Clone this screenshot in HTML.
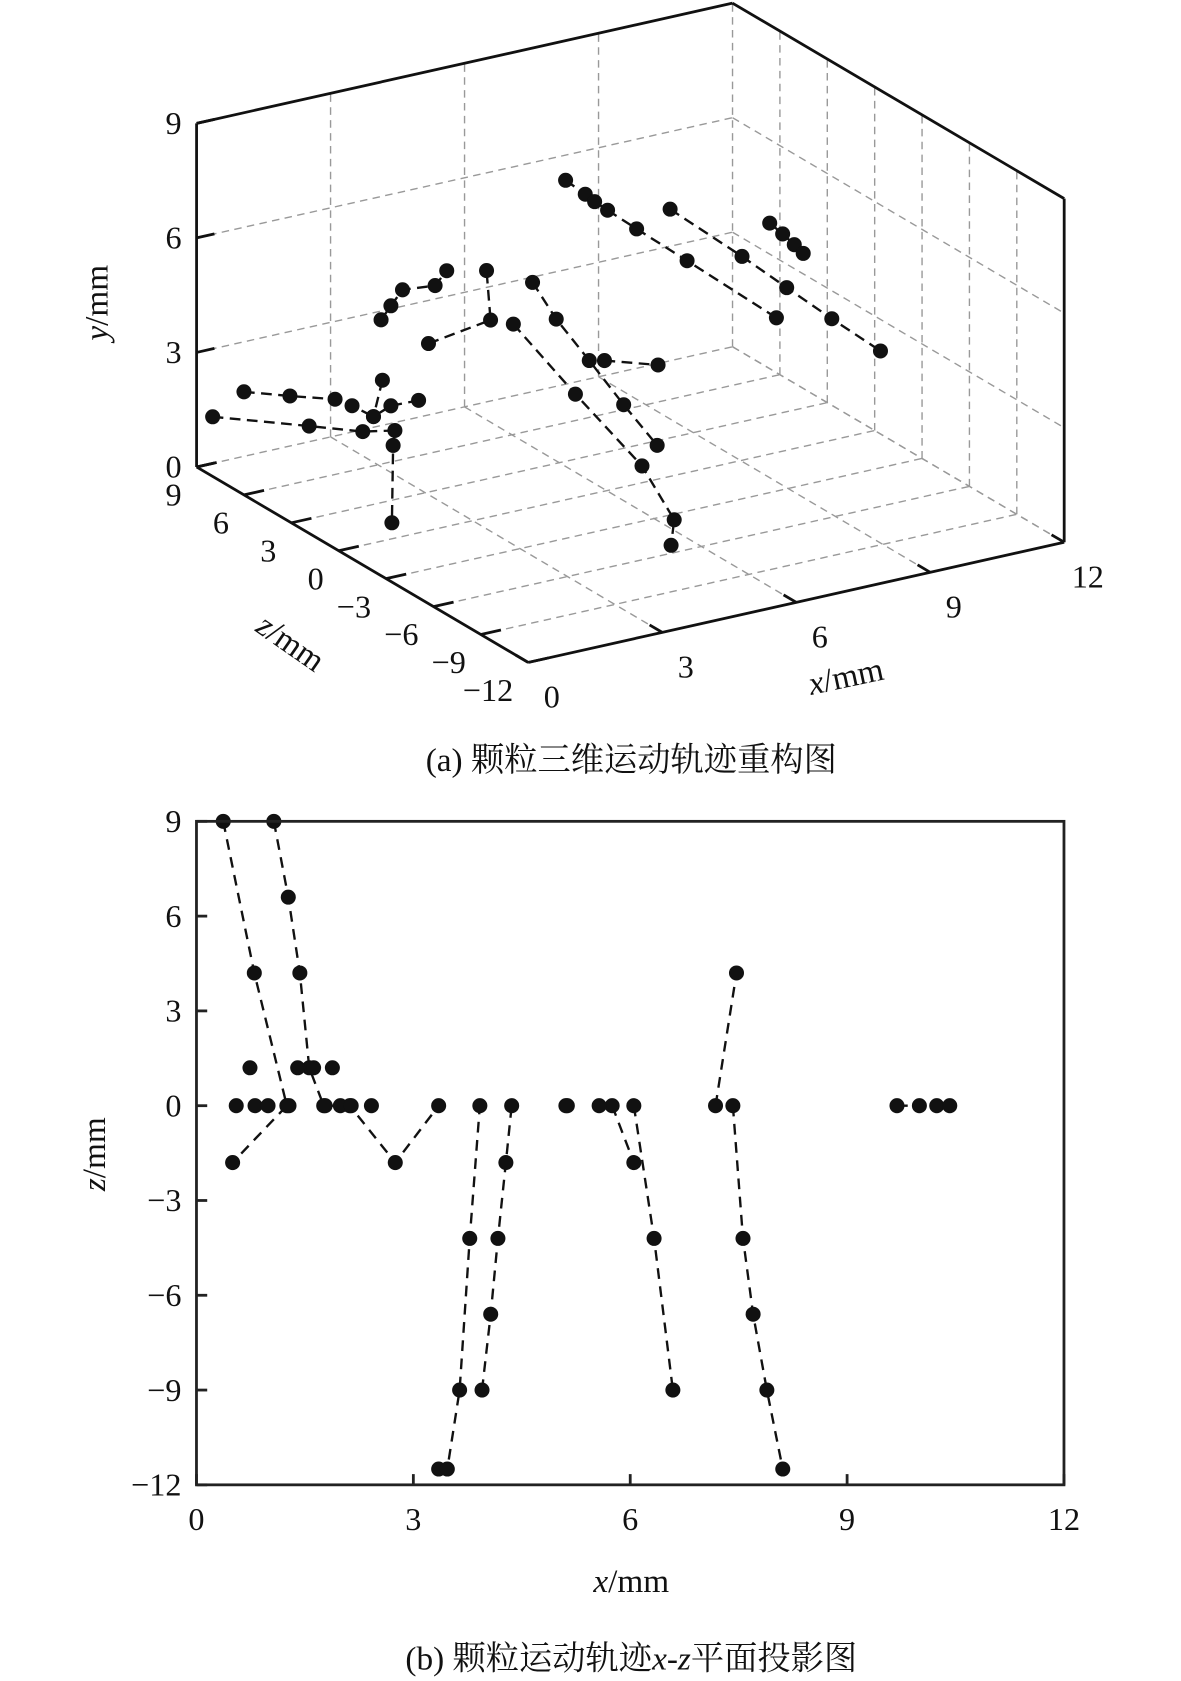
<!DOCTYPE html>
<html><head><meta charset="utf-8"><style>
html,body{margin:0;padding:0;background:#fff;}
svg{display:block;}
text{font-family:"Liberation Serif","Noto Serif CJK SC",serif;fill:#111;}
</style></head><body>
<svg id="fig" width="1181" height="1681" viewBox="0 0 1100 1565.7" xmlns="http://www.w3.org/2000/svg">
<g id="topchart"></g>
<g id="botchart"></g>
<text x="100" y="282" font-size="31" text-anchor="middle" transform="rotate(-90 100 282)"><tspan font-style="italic">y</tspan>/mm</text>
<text x="265" y="607" font-size="31" text-anchor="middle" transform="rotate(35 265 607)"><tspan font-style="italic">z</tspan>/mm</text>
<text x="790" y="640" font-size="31" text-anchor="middle" transform="rotate(-12 790 640)"><tspan font-style="italic">x</tspan>/mm</text>
<text x="588" y="718" font-size="31" text-anchor="middle">(a) 颗粒三维运动轨迹重构图</text>
<text x="98" y="1075" font-size="31" text-anchor="middle" transform="rotate(-90 98 1075)"><tspan font-style="italic">z</tspan>/mm</text>
<text x="588" y="1483" font-size="31" text-anchor="middle"><tspan font-style="italic">x</tspan>/mm</text>
<text x="588" y="1555" font-size="31" text-anchor="middle">(b) 颗粒运动轨迹<tspan font-style="italic">x</tspan>-<tspan font-style="italic">z</tspan>平面投影图</text>
</svg>
<script>
// ---- 3D chart data (x, y, z in mm) ----
const t3x = [
 [0.36,1.46,2.66,3.38,3.34,0.13],
 [0.0,1.03,2.04,2.42,2.90,3.29,3.91],
 [3.10,2.90],
 [3.07,3.29,3.55,4.28,4.54],
 [2.01,3.40,3.31],
 [3.91,5.30,6.79,5.39,5.32],
 [4.34,4.87,5.61,6.38,7.13],
 [5.95,7.15],
 [5.08,5.52,5.73,6.02,6.67,7.80,9.80],
 [7.42,9.03,10.03,11.04,12.13],
 [9.65,9.94,10.20,10.40]
];
const t3y = [
 [1.22,1.42,0.96,0.80,0.42,1.43],
 [2.70,2.32,1.97,1.70,1.29,1.47,1.45],
 [2.19,1.29],
 [3.78,4.09,4.44,4.36,4.68],
 [4.90,5.15,6.47],
 [4.91,2.71,0.44,0.86,0.21],
 [5.89,4.79,3.51,2.15,0.89],
 [3.42,2.99],
 [8.37,7.89,7.64,7.34,6.68,5.55,3.53],
 [7.0,5.34,4.26,3.18,2.05],
 [6.05,5.69,5.34,5.06]
];
const t3z = [
 [9,6,6,6,6,-3],
 [6,6,6,6,6,6,6],
 [6,6],
 [6,6,6,6,6],
 [0,0,0],
 [0,0,0,-6,-6],
 [0,0,0,0,0],
 [0,0],
 [0,0,0,0,0,0,0],
 [0,0,0,0,0],
 [0,0,0,0]
];
const xTicks3 = [0,3,6,9,12];
const yTicks3 = [0,3,6,9];
const zTicks3 = [9,6,3,0,-3,-6,-9,-12];

// ---- 2D chart data ----
const bx = [
 [0.37,0.80,1.25,0.50],
 [1.07,1.27,1.43,1.56,1.76,2.12,2.75,3.35],
 [3.35,3.47,3.64,3.78,3.92],
 [3.95,4.07,4.17,4.28,4.36],
 [5.75,6.05],
 [6.05,6.33,6.59],
 [7.18,7.47],
 [7.42,7.56,7.70,7.89,8.11],
 [9.69,10.0,10.24,10.42]
];
const bz = [
 [9,4.2,0,-1.8],
 [9,6.6,4.2,1.2,0,0,-1.8,0],
 [-11.5,-11.5,-9,-4.2,0],
 [-9,-6.6,-4.2,-1.8,0],
 [0,-1.8],
 [0,-4.2,-9],
 [0,4.2],
 [0,-4.2,-6.6,-9,-11.5],
 [0,0,0,0]
];
const extraX = [0.55,0.74,0.81,0.99,1.28,1.40,1.62,1.78,1.88,1.99,2.14,2.42,5.11,5.13,5.57];
const extraZ = [0,1.2,0,0,0,1.2,1.2,0,1.2,0,0,0,0,0,0];
const xTicks2 = [0,3,6,9,12];
const zTicks2 = [9,6,3,0,-3,-6,-9,-12];
const xLabels2 = ["0","3","6","9","12"];
const zLabels2 = ["9","6","3","0","\u22123","\u22126","\u22129","\u221212"];

const NS="http://www.w3.org/2000/svg";
function mk(tag, attrs, parent){const e=document.createElementNS(NS,tag);for(const k in attrs)e.setAttribute(k,attrs[k]);parent.appendChild(e);return e;}

// ---------- 3D ----------
const topG=document.getElementById('topchart');
function P(x,y,z){return [492+41.6*x-14.71*(z+12), 617-9.33*x-8.67*(z+12)-35.56*y];}
function line3(a,b,dash,parent,name){
 const p=P(a[0],a[1],a[2]),q=P(b[0],b[1],b[2]);
 const l=mk('line',{x1:p[0],y1:p[1],x2:q[0],y2:q[1],stroke:dash?'#999':'#111','stroke-width':dash?1.3:2.6,'stroke-dasharray':dash?'7 5':'none'},parent);
 
 
}
const grid=mk('g',{},topG);


[3,6,9,12].forEach(x=>line3([x,0,9],[x,0,-12],true,grid,'floor-grid-x'));
[9,6,3,0,-3,-6,-9].forEach(z=>line3([0,0,z],[12,0,z],true,grid,'floor-grid-z'));
[3,6,9,12].forEach(x=>line3([x,0,9],[x,9,9],true,grid,'back-grid-x'));
[3,6].forEach(y=>line3([0,y,9],[12,y,9],true,grid,'back-grid-y'));
[6,3,0,-3,-6,-9].forEach(z=>line3([12,0,z],[12,9,z],true,grid,'side-grid-z'));
[0,3,6].forEach(y=>line3([12,y,9],[12,y,-12],true,grid,'side-grid-y'));
const box=mk('g',{},topG);


line3([0,0,9],[0,9,9],false,box,'y-axis-3d');
line3([0,9,9],[12,9,9],false,box,'top-edge');
line3([12,9,9],[12,9,-12],false,box,'top-edge');
line3([12,0,-12],[12,9,-12],false,box,'right-edge');
line3([0,0,-12],[12,0,-12],false,box,'x-axis-3d');
line3([0,0,9],[0,0,-12],false,box,'z-axis-3d');
xTicks3.forEach(x=>{const a=P(x,0,-12),b=P(x,0,-11.2);
 const l=mk('line',{x1:a[0],y1:a[1],x2:b[0],y2:b[1],stroke:'#111','stroke-width':2.6},box);
 
 
 const t=mk('text',{x:a[0]+22,y:a[1]+42,'font-size':30,'text-anchor':'middle'},topG);t.textContent=x;
 
 });
zTicks3.forEach(z=>{const a=P(0,0,z),b=P(0.45,0,z);
 const l=mk('line',{x1:a[0],y1:a[1],x2:b[0],y2:b[1],stroke:'#111','stroke-width':2.6},box);
 
 
 const t=mk('text',{x:a[0]-14,y:a[1]+36,'font-size':30,'text-anchor':'end'},topG);t.textContent=z<0?'\u2212'+(-z):String(z);
 
 });
yTicks3.forEach(y=>{const a=P(0,y,9),b=P(0.4,y,9);
 const l=mk('line',{x1:a[0],y1:a[1],x2:b[0],y2:b[1],stroke:'#111','stroke-width':2.6},box);
 
 
 const t=mk('text',{x:a[0]-14,y:a[1]+10,'font-size':30,'text-anchor':'end'},topG);t.textContent=y;
 
 });
const s3=mk('g',{},topG);


t3x.forEach((xs,i)=>{
 const pts=xs.map((x,j)=>P(x,t3y[i][j],t3z[i][j]));
 const pl=mk('polyline',{points:pts.map(p=>p.join(',')).join(' '),fill:'none',stroke:'#111','stroke-width':2.2,'stroke-dasharray':'10 6'},s3);
 
 
 pts.forEach(p=>{const c=mk('circle',{cx:p[0],cy:p[1],r:7,fill:'#111'},s3);
  
  });
});

// ---------- 2D ----------
const botG=document.getElementById('botchart');
const X0=183,X1=991,Y0=765,Y1=1383;
const sx=x=>X0+x/12*(X1-X0);
const sz=z=>Y0+(9-z)/21*(Y1-Y0);
const s2=mk('g',{},botG);


bx.forEach((xs,i)=>{
 const pts=xs.map((x,j)=>[sx(x),sz(bz[i][j])]);
 const pl=mk('polyline',{points:pts.map(p=>p.join(',')).join(' '),fill:'none',stroke:'#111','stroke-width':2.2,'stroke-dasharray':'10 7'},s2);
 
 
 pts.forEach(p=>{const c=mk('circle',{cx:p[0],cy:p[1],r:7,fill:'#111'},s2);
  
  });
});
extraX.forEach((x,j)=>{const c=mk('circle',{cx:sx(x),cy:sz(extraZ[j]),r:7,fill:'#111'},s2);
 
 });
const frame=mk('rect',{x:X0,y:Y0,width:X1-X0,height:Y1-Y0,fill:'none',stroke:'#222','stroke-width':2.6},botG);


xTicks2.forEach((x,i)=>{
 const l=mk('line',{x1:sx(x),y1:Y1,x2:sx(x),y2:Y1-10,stroke:'#222','stroke-width':2.6},botG);
 
 
 const t=mk('text',{x:sx(x),y:Y1+42,'font-size':30,'text-anchor':'middle'},botG);t.textContent=xLabels2[i];
 
 
});
zTicks2.forEach((z,i)=>{
 const l=mk('line',{x1:X0,y1:sz(z),x2:X0+10,y2:sz(z),stroke:'#222','stroke-width':2.6},botG);
 
 
 const t=mk('text',{x:X0-14,y:sz(z)+10,'font-size':30,'text-anchor':'end'},botG);t.textContent=zLabels2[i];
 
 
});
</script>
</body></html>
